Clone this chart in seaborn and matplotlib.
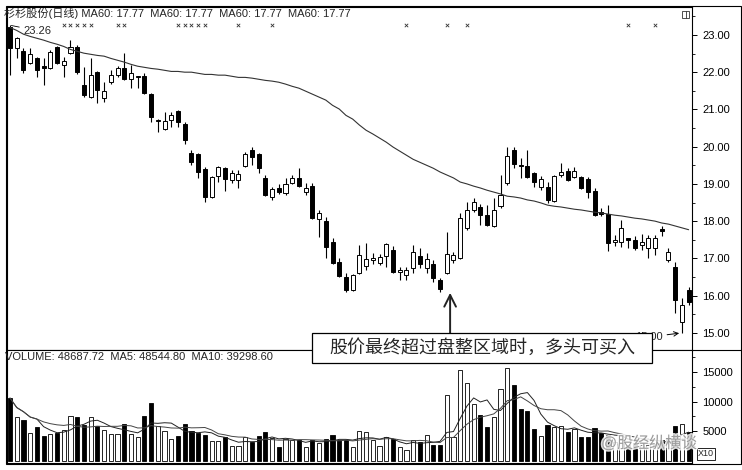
import numpy as np
import pandas as pd
import matplotlib
matplotlib.use('Agg')
import matplotlib.pyplot as plt
import matplotlib.patheffects as pe
import seaborn as sns
from matplotlib.patches import Rectangle
from matplotlib.lines import Line2D

# 日线数据
opens = [23.20, 22.64, 22.56, 22.24, 22.37, 22.16, 22.11, 22.67, 22.19, 22.51,
         22.67, 21.65, 21.33, 22.00, 21.30, 21.73, 21.92, 22.11, 21.81, 21.86,
         21.89, 21.41, 20.68, 20.47, 20.71, 20.95, 20.60, 19.83, 19.80, 19.40,
         18.65, 19.21, 19.42, 19.10, 19.10, 19.48, 19.91, 19.80, 19.16, 18.65,
         18.89, 18.75, 19.02, 19.16, 18.78, 18.94, 18.06, 18.00, 17.44, 16.90,
         16.50, 16.15, 16.61, 16.80, 16.96, 16.88, 17.06, 17.23, 16.64, 16.56,
         16.74, 17.06, 16.74, 16.85, 16.42, 16.61, 16.96, 17.01, 17.82, 18.30,
         18.38, 18.16, 17.87, 18.41, 19.02, 19.91, 19.50, 19.48, 19.29, 18.92,
         18.92, 18.54, 19.24, 19.34, 19.18, 19.18, 19.13, 18.81, 18.24, 18.19,
         17.44, 17.44, 17.55, 17.49, 17.36, 17.28, 17.28, 17.79, 16.96, 16.77,
         15.30, 16.15]
highs = [23.26, 22.94, 22.64, 22.64, 22.40, 22.37, 22.59, 22.69, 22.40, 22.86,
         22.72, 22.13, 22.37, 22.02, 21.73, 22.05, 22.16, 22.51, 22.19, 21.89,
         21.97, 21.43, 20.74, 20.93, 20.93, 20.98, 20.66, 19.91, 19.83, 19.45,
         19.21, 19.48, 19.45, 19.37, 19.37, 19.85, 19.99, 19.83, 19.24, 18.92,
         19.00, 19.16, 19.24, 19.42, 19.02, 19.02, 18.30, 18.11, 17.55, 17.01,
         16.61, 16.58, 17.36, 17.41, 17.15, 17.12, 17.41, 17.33, 16.77, 16.77,
         17.36, 17.28, 17.15, 16.96, 16.47, 17.71, 17.17, 18.22, 18.51, 18.62,
         18.46, 18.43, 18.62, 19.24, 19.99, 19.99, 19.69, 19.91, 19.32, 19.21,
         19.05, 19.24, 19.56, 19.42, 19.45, 19.21, 19.18, 18.89, 18.35, 18.43,
         17.63, 18.03, 17.55, 17.60, 17.65, 17.63, 17.63, 17.87, 17.28, 16.90,
         15.94, 16.23]
lows = [21.92, 22.37, 21.97, 22.21, 21.86, 21.65, 22.08, 22.21, 21.86, 22.48,
        21.94, 21.33, 21.30, 21.17, 21.19, 21.68, 21.86, 21.78, 21.57, 21.57,
        21.41, 20.66, 20.39, 20.44, 20.52, 20.52, 20.07, 19.50, 19.16, 18.51,
        18.62, 19.05, 18.81, 19.02, 18.89, 19.45, 19.50, 19.29, 18.67, 18.57,
        18.73, 18.70, 19.00, 18.92, 18.70, 18.06, 17.57, 17.01, 16.85, 16.50,
        16.10, 16.13, 16.58, 16.69, 16.85, 16.82, 16.77, 16.61, 16.42, 16.42,
        16.61, 16.74, 16.61, 16.37, 16.10, 16.58, 16.88, 16.98, 17.76, 18.24,
        17.90, 17.87, 17.84, 18.35, 18.97, 19.42, 19.16, 19.16, 18.92, 18.83,
        18.49, 18.51, 19.18, 19.08, 19.16, 18.86, 18.62, 18.14, 18.14, 17.20,
        17.33, 17.31, 17.28, 17.23, 17.23, 17.01, 17.09, 17.60, 16.90, 15.54,
        15.00, 15.75]
closes = [22.64, 22.91, 22.05, 22.48, 22.05, 22.11, 22.53, 22.24, 22.29, 22.67,
          22.00, 21.38, 21.92, 21.52, 21.49, 21.92, 22.11, 21.81, 21.97, 21.89,
          21.43, 20.79, 20.71, 20.68, 20.85, 20.66, 20.17, 19.58, 19.32, 18.65,
          19.18, 19.45, 19.13, 19.29, 19.26, 19.80, 19.72, 19.42, 18.70, 18.86,
          18.78, 19.00, 19.16, 18.94, 18.89, 18.08, 18.22, 17.31, 16.88, 16.53,
          16.15, 16.56, 17.09, 16.98, 17.01, 17.04, 17.39, 16.64, 16.69, 16.69,
          17.17, 16.85, 16.98, 16.47, 16.18, 17.12, 17.09, 18.08, 18.30, 18.51,
          18.16, 17.90, 18.30, 18.70, 19.75, 19.53, 19.48, 19.18, 19.05, 19.13,
          18.57, 19.21, 19.32, 19.10, 19.34, 18.89, 18.78, 18.16, 18.19, 17.41,
          17.49, 17.82, 17.49, 17.28, 17.44, 17.55, 17.55, 17.74, 17.17, 15.89,
          15.75, 15.83]
ma60 = [23.20, 23.12, 23.02, 22.96, 22.91, 22.86, 22.80, 22.75, 22.69, 22.61,
        22.56, 22.51, 22.48, 22.45, 22.43, 22.37, 22.32, 22.27, 22.21, 22.16,
        22.13, 22.10, 22.08, 22.05, 22.02, 22.02, 22.00, 22.00, 21.97, 21.94,
        21.94, 21.92, 21.92, 21.89, 21.86, 21.86, 21.84, 21.81, 21.78, 21.76,
        21.73, 21.68, 21.62, 21.57, 21.49, 21.41, 21.33, 21.25, 21.11, 21.01,
        20.84, 20.74, 20.58, 20.44, 20.34, 20.23, 20.12, 19.99, 19.88, 19.77,
        19.66, 19.58, 19.50, 19.42, 19.32, 19.24, 19.16, 19.05, 19.00, 18.94,
        18.89, 18.83, 18.78, 18.73, 18.67, 18.65, 18.62, 18.57, 18.54, 18.49,
        18.43, 18.40, 18.38, 18.35, 18.32, 18.30, 18.27, 18.24, 18.22, 18.19,
        18.16, 18.14, 18.11, 18.08, 18.06, 18.03, 18.00, 17.95, 17.92, 17.87,
        17.82, 17.77]
# 成交量（坐标单位 X10）
volume = [10600, 7400, 6900, 4700, 5700, 4200, 4500, 4700, 5200, 7600,
          7400, 6000, 7400, 5900, 5200, 4500, 4500, 6200, 4500, 4000,
          7600, 9700, 5900, 5000, 3700, 4200, 6200, 5000, 4700, 4400,
          3400, 3400, 4000, 2500, 2500, 4000, 3200, 4200, 4900, 3900,
          2400, 3700, 3600, 3600, 2400, 3600, 3000, 3700, 4300, 3600,
          3600, 2400, 5000, 4900, 3500, 2500, 4000, 3700, 2400, 1900,
          3600, 3200, 4300, 2700, 2700, 11100, 4000, 15300, 13100, 9600,
          7700, 5700, 7400, 12100, 15600, 12800, 8700, 8400, 5400, 4200,
          6000, 5700, 5900, 4900, 5400, 4000, 4000, 5500, 4700, 4400,
          3200, 3500, 2700, 3000, 2700, 2700, 2700, 3600, 3700, 5900,
          6200, 4870]
# 顶部小叉标记所在的交易日
mark_days = [8, 9, 10, 11, 12, 16, 17, 25, 26, 27, 28, 29, 34, 39, 59, 65, 68, 92, 96]

price_ticks = [15, 16, 17, 18, 19, 20, 21, 22, 23]
vol_ticks = [5000, 10000, 15000]
title = '杉杉股份(日线) MA60: 17.77  MA60: 17.77  MA60: 17.77  MA60: 17.77'
vol_title = 'VOLUME: 48687.72  MA5: 48544.80  MA10: 39298.60'
note = '股价最终超过盘整区域时，多头可买入'

sns.set_theme(style='white')
plt.rcParams['font.family'] = ['Liberation Sans', 'Noto Sans CJK SC', 'DejaVu Sans']
plt.rcParams['axes.unicode_minus'] = False

df = pd.DataFrame({'open': opens, 'high': highs, 'low': lows, 'close': closes,
                   'ma60': ma60, 'volume': volume})
df['day'] = np.arange(len(df))
df['up'] = df['close'] >= df['open']
df['ma5'] = df['volume'].rolling(5, min_periods=1).mean()
df['ma10'] = df['volume'].rolling(10, min_periods=1).mean()
face = np.where(df['up'], 'white', 'black')

W, H = 742, 470
fig = plt.figure(figsize=(W / 100, H / 100), dpi=100)
fig.patch.set_facecolor('white')
ax = fig.add_axes([7 / W, 1 - 350 / H, 685 / W, 343 / H])
axv = fig.add_axes([7 / W, 1 - 463 / H, 685 / W, 113 / H])

# K线
ax.vlines(df['day'], df['low'], df['high'], color='black', lw=0.8, zorder=2)
ax.bar(df['day'], (df['close'] - df['open']).abs().clip(lower=0.01),
       bottom=df[['open', 'close']].min(axis=1), width=0.6,
       color=face, edgecolor='black', linewidth=0.7, zorder=3)
sns.lineplot(data=df, x='day', y='ma60', ax=ax, color='#333333', lw=0.8, zorder=4)
ax.scatter(mark_days, [0.947] * len(mark_days), marker='x', s=6, lw=0.6,
           color='#333333', transform=ax.get_xaxis_transform(), zorder=5)

ax.annotate('23.26', xy=(0, df['high'].max()), xytext=(10, -4),
            textcoords='offset points', ha='left', va='center', fontsize=8,
            arrowprops=dict(arrowstyle='-', lw=0.6, color='black', shrinkA=1, shrinkB=1))
ax.annotate('15.00', xy=(df['low'].idxmin(), df['low'].min()), xytext=(-14, -3),
            textcoords='offset points', ha='right', va='center', fontsize=8,
            arrowprops=dict(arrowstyle='->', lw=0.7, color='black', shrinkA=1, shrinkB=2))
ax.annotate('', xy=(65.5, 16.15), xytext=(65.5, 14.9),
            arrowprops=dict(arrowstyle='->,head_length=0.7,head_width=0.35',
                            lw=1.4, color='#222222'))

ax.set_xlim(-0.45, 101.5)
ax.set_ylim(14.54, 23.75)
ax.set_xlabel('')
ax.set_ylabel('')
ax.set_xticks([])
ax.yaxis.tick_right()
ax.set_yticks(price_ticks)
ax.set_yticklabels([f'{t:.2f}' for t in price_ticks])
ax.set_yticks([t + 0.5 for t in price_ticks[:-1]] + [14.5 + 9], minor=True)
ax.tick_params(axis='y', which='major', direction='out', length=3.5, width=0.7,
               colors='black', labelsize=8, pad=4, right=True, left=False)
ax.tick_params(axis='y', which='minor', direction='out', length=1.8, width=0.6,
               colors='black', right=True, left=False)

# 成交量
axv.bar(df['day'], df['volume'], width=0.62, color=face, edgecolor='black',
        linewidth=0.6, zorder=2)
sns.lineplot(data=df, x='day', y='ma5', ax=axv, color='#222222', lw=0.7, zorder=3)
sns.lineplot(data=df, x='day', y='ma10', ax=axv, color='#444444', lw=0.7, zorder=3)
axv.set_xlim(-0.45, 101.5)
axv.set_ylim(-340, 18690)
axv.set_xlabel('')
axv.set_ylabel('')
axv.set_xticks([])
axv.yaxis.tick_right()
axv.set_yticks(vol_ticks)
axv.set_yticklabels([str(t) for t in vol_ticks])
axv.set_yticks([2500, 7500, 12500, 17500], minor=True)
axv.tick_params(axis='y', which='major', direction='out', length=3.5, width=0.7,
                colors='black', labelsize=8, pad=4, right=True, left=False)
axv.tick_params(axis='y', which='minor', direction='out', length=1.8, width=0.6,
                colors='black', right=True, left=False)

for a in (ax, axv):
    for s in a.spines.values():
        s.set_visible(True)
        s.set_color('black')
        s.set_linewidth(0.8)

# 文字与边框
fig.text(4 / W, 1 - 13 / H, title, fontsize=8, va='center', ha='left')
fig.text(5 / W, 1 - 357 / H, vol_title, fontsize=8, va='center', ha='left')
fig.add_artist(Rectangle((6 / W, 1 - 464 / H), 735 / W, 458 / H, transform=fig.transFigure,
                         fill=False, ec='black', lw=0.8))
fig.add_artist(Line2D([692 / W, 741 / W], [1 - 350 / H] * 2, transform=fig.transFigure,
                      color='black', lw=0.8))
fig.add_artist(Rectangle((682 / W, 1 - 18 / H), 7 / W, 7 / H, transform=fig.transFigure,
                         fill=False, ec='#333333', lw=0.6))
fig.add_artist(Line2D([685.5 / W] * 2, [1 - 18 / H, 1 - 11 / H], transform=fig.transFigure,
                      color='#333333', lw=0.6))
fig.text(698 / W, 1 - 454 / H, 'X10', fontsize=6.5, va='center', ha='left',
         bbox=dict(boxstyle='square,pad=0.15', fc='white', ec='black', lw=0.6))

fig.add_artist(Rectangle((312 / W, 1 - 363 / H), 340 / W, 30 / H, transform=fig.transFigure,
                         fc='white', ec='black', lw=0.9, zorder=10))
fig.text(482 / W, 1 - 348 / H, note, fontsize=13, va='center', ha='center',
         family=['Noto Sans CJK SC'], zorder=11)

# 水印
fig.text(601 / W, 1 - 443 / H, '@股经纵横谈', fontsize=11.5, va='center', ha='left',
         color='#9a9a9a', zorder=12,
         path_effects=[pe.withStroke(linewidth=2.2, foreground='white', alpha=0.85)])

fig.savefig('out.png', dpi=100)
plt.close(fig)
